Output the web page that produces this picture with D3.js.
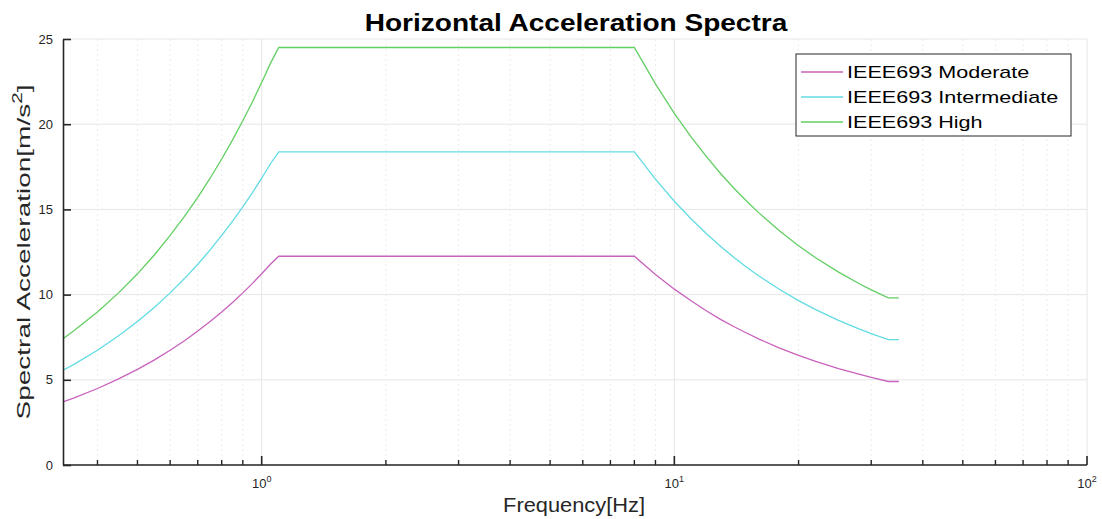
<html>
<head>
<style>
  body { margin: 0; background: #fff; }
  text { font-family: "Liberation Sans", Arial, sans-serif; }
</style>
</head>
<body>
<div id="chart"><svg></svg></div>
<script src="https://cdn.jsdelivr.net/npm/d3@7"></script>
<script>
// frequencies [Hz] at which the curves were read
var freqs = [0.33, 0.35, 0.4, 0.45, 0.5, 0.55, 0.6, 0.65, 0.7, 0.75, 0.8, 0.85, 0.9, 0.95, 1.0, 1.05, 1.1,
             8, 9, 10, 11, 12, 13, 14, 15, 16, 18, 20, 22, 25, 28, 30, 33, 35]
// spectral acceleration [m/s^2]
var moderate = [3.70, 3.93, 4.49, 5.05, 5.61, 6.17, 6.73, 7.29, 7.86, 8.42, 8.98, 9.54, 10.10, 10.66, 11.22, 11.78, 12.25,
                12.25, 11.18, 10.32, 9.62, 9.02, 8.52, 8.10, 7.73, 7.40, 6.86, 6.43, 6.08, 5.66, 5.33, 5.14, 4.90, 4.90]
var intermediate = [5.56, 5.89, 6.73, 7.58, 8.42, 9.26, 10.10, 10.94, 11.78, 12.62, 13.47, 14.31, 15.15, 15.99, 16.83, 17.68, 18.38,
                    18.38, 16.78, 15.48, 14.42, 13.54, 12.79, 12.15, 11.59, 11.11, 10.30, 9.65, 9.12, 8.49, 7.99, 7.71, 7.36, 7.36]
var high = [7.41, 7.86, 8.98, 10.10, 11.22, 12.34, 13.47, 14.59, 15.71, 16.83, 17.96, 19.08, 20.20, 21.32, 22.45, 23.57, 24.50,
            24.50, 22.37, 20.64, 19.23, 18.05, 17.05, 16.20, 15.46, 14.81, 13.73, 12.87, 12.16, 11.32, 10.65, 10.28, 9.81, 9.81]
var seriesNames = ["IEEE693 Moderate", "IEEE693 Intermediate", "IEEE693 High"]
var seriesColors = ["#c862bd", "#62dbe3", "#62cf62"]
var yTicks = [0, 5, 10, 15, 20, 25]
var xMajor = [1, 10, 100]
var xMinor = [0.4, 0.5, 0.6, 0.7, 0.8, 0.9, 2, 3, 4, 5, 6, 7, 8, 9, 20, 30, 40, 50, 60, 70, 80, 90]

var screen = {width: 1102, height: 519}
var plot = {left: 63, right: 1087, top: 39, bottom: 465}

var svg = d3.select("#chart svg")
            .attr("width", screen.width)
            .attr("height", screen.height)

var xScale = d3.scaleLog().domain([0.33, 100]).range([plot.left, plot.right])
var yScale = d3.scaleLinear().domain([0, 25]).range([plot.bottom, plot.top])

// the text in the picture is stretched, so squeeze/stretch groups to the width seen
function fitWidth(g, target) {
    var w = g.node().getBBox().width
    g.attr("transform", g.attr("transform") + " scale(" + (target / w) + ",1)")
}

// grid
var grid = svg.append("g")
grid.selectAll(".ymaj").data(yTicks).enter().append("line")
    .attr("x1", plot.left).attr("x2", plot.right)
    .attr("y1", yScale).attr("y2", yScale)
    .attr("stroke", "#e6e6e6").attr("stroke-width", 1)
grid.selectAll(".xmaj").data(xMajor).enter().append("line")
    .attr("x1", xScale).attr("x2", xScale)
    .attr("y1", plot.top).attr("y2", plot.bottom)
    .attr("stroke", "#e6e6e6").attr("stroke-width", 1)
grid.selectAll(".xmin").data(xMinor).enter().append("line")
    .attr("x1", xScale).attr("x2", xScale)
    .attr("y1", plot.top).attr("y2", plot.bottom)
    .attr("stroke", "#ececec").attr("stroke-width", 1)
    .attr("stroke-dasharray", "2,3")

// curves
var allSeries = [moderate, intermediate, high]
var linegenerator = d3.line()
    .x(function(d, i){return xScale(freqs[i])})
    .y(function(d){return yScale(d)})
svg.append("g").selectAll("path").data(allSeries).enter().append("path")
    .attr("d", linegenerator)
    .attr("fill", "none")
    .attr("stroke", function(d, i){return seriesColors[i]})
    .attr("stroke-width", 1.3)

// axes (matlab style: ticks point inward)
var yAxis = d3.axisLeft(yScale).tickValues(yTicks).tickSizeInner(-8).tickSizeOuter(0).tickPadding(10)
svg.append("g")
    .attr("transform", "translate(" + plot.left + ",0)")
    .call(yAxis)
    .call(function(g){
        g.select(".domain").attr("stroke", "#262626").attr("stroke-width", 1.6)
        g.selectAll(".tick line").attr("stroke", "#262626").attr("stroke-width", 1.6)
        g.selectAll("text").attr("font-size", 13).attr("fill", "#262626")
            .style("font-family", "Liberation Sans, Arial, sans-serif")
    })

var xAxisG = svg.append("g").attr("transform", "translate(0," + plot.bottom + ")")
xAxisG.append("line")
    .attr("x1", plot.left).attr("x2", plot.right)
    .attr("stroke", "#262626").attr("stroke-width", 1.6)
xAxisG.selectAll(".minor").data(xMinor).enter().append("line")
    .attr("x1", xScale).attr("x2", xScale).attr("y1", 0).attr("y2", -5)
    .attr("stroke", "#262626").attr("stroke-width", 1.4)
xAxisG.selectAll(".major").data(xMajor).enter().append("line")
    .attr("x1", xScale).attr("x2", xScale).attr("y1", 0).attr("y2", -9)
    .attr("stroke", "#262626").attr("stroke-width", 1.6)
var xLabels = xAxisG.selectAll(".lab").data(xMajor).enter().append("text")
    .attr("x", xScale).attr("y", 23)
    .attr("text-anchor", "middle")
    .attr("font-size", 13).attr("fill", "#262626")
xLabels.append("tspan").text("10")
xLabels.append("tspan").attr("dy", -6).attr("font-size", 9)
    .text(function(d){return Math.round(Math.log10(d))})

// title and labels
var title = svg.append("g").attr("transform", "translate(576,31)")
title.append("text")
    .attr("text-anchor", "middle")
    .attr("font-size", 23).attr("font-weight", "bold").attr("fill", "#000")
    .text("Horizontal Acceleration Spectra")
fitWidth(title, 423)

var xl = svg.append("g").attr("transform", "translate(574,512)")
xl.append("text")
    .attr("text-anchor", "middle")
    .attr("font-size", 20).attr("fill", "#262626")
    .text("Frequency[Hz]")
fitWidth(xl, 142)

var ylg = svg.append("g").attr("transform", "translate(30,252) rotate(-90)")
var yl = ylg.append("text")
    .attr("text-anchor", "middle")
    .attr("font-size", 19).attr("fill", "#262626")
yl.append("tspan").text("Spectral Acceleration[m/s")
yl.append("tspan").attr("dy", -8).attr("font-size", 14).text("2")
yl.append("tspan").attr("dy", 8).text("]")
fitWidth(ylg, 335)

// legend
var legend = svg.append("g").attr("transform", "translate(796,54)")
legend.append("rect")
    .attr("width", 275).attr("height", 82)
    .attr("fill", "#fff").attr("stroke", "#262626").attr("stroke-width", 1)
var rows = legend.selectAll(".row").data(seriesNames).enter().append("g")
    .attr("transform", function(d, i){return "translate(0," + (18 + i * 25) + ")"})
rows.append("line")
    .attr("x1", 5).attr("x2", 47)
    .attr("stroke", function(d, i){return seriesColors[i]})
    .attr("stroke-width", 1.3)
rows.each(function(d){
    var t = d3.select(this).append("g").attr("transform", "translate(51,6)")
    t.append("text")
        .attr("font-size", 17).attr("fill", "#000")
        .text(d)
    t.attr("transform", "translate(51,6) scale(1.27,1)")
})
</script>
</body>
</html>
